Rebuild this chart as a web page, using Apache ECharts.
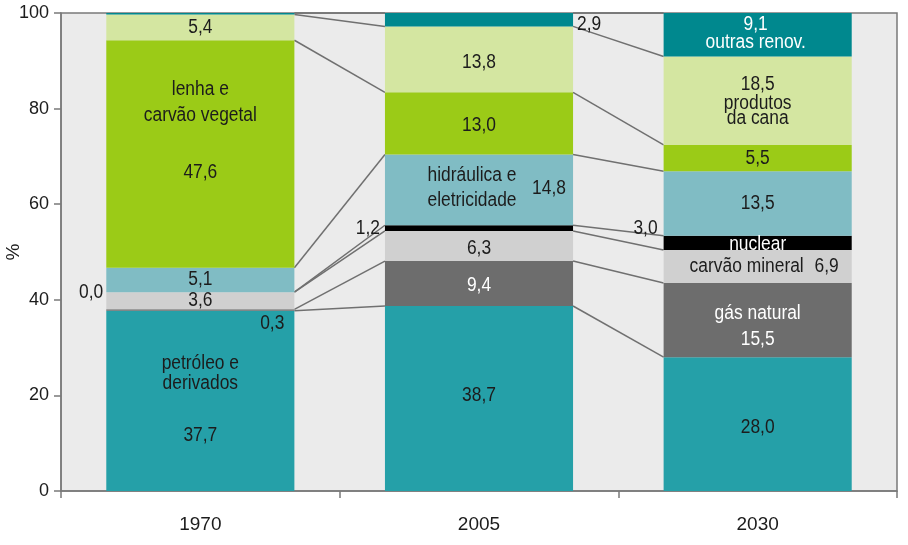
<!DOCTYPE html>
<html><head><meta charset="utf-8">
<script src="https://cdn.jsdelivr.net/npm/echarts@6/dist/echarts.min.js"></script>
<style>html,body{margin:0;padding:0;background:#fff}#c{width:908px;height:545px}</style>
</head><body><div id="c"></div>
<script>
// ---- data ----
const categories = ['1970', '2005', '2030'];
const petroleo      = [37.7, 38.7, 28.0];
const gasNatural    = [0.3, 9.4, 15.5];
const carvaoMineral = [3.6, 6.3, 6.9];
const nuclear       = [0.0, 1.2, 3.0];
const hidraulica    = [5.1, 14.8, 13.5];
const lenha         = [47.6, 13.0, 5.5];
const cana          = [5.4, 13.8, 18.5];
const outras        = [0.3, 2.9, 9.1];
const yTicks = [0, 20, 40, 60, 80, 100];
const yTitle = '%';

// ---- styling ----
const FONT = "'Liberation Sans',Arial,sans-serif";
const NARROW = 0.87;
const BAR_FRAC = 0.675;
const seriesDefs = [
  {name: 'petróleo e derivados', data: petroleo, color: '#25a0a8'},
  {name: 'gás natural', data: gasNatural, color: '#6d6d6d'},
  {name: 'carvão mineral', data: carvaoMineral, color: '#d0d0d0'},
  {name: 'nuclear', data: nuclear, color: '#000000'},
  {name: 'hidráulica e eletricidade', data: hidraulica, color: '#80bcc4'},
  {name: 'lenha e carvão vegetal', data: lenha, color: '#9bcb17'},
  {name: 'produtos da cana', data: cana, color: '#d4e6a1'},
  {name: 'outras renov.', data: outras, color: '#00888e'}
];
const fmt = v => v.toFixed(1).replace('.', ',');
function bottomVal(s, c) { let b = 0; for (let k = 0; k < s; k++) b += seriesDefs[k].data[c]; return b; }
function topVal(s, c) { return Math.min(100, bottomVal(s, c) + seriesDefs[s].data[c]); }
function midVal(s, c) { return (bottomVal(s, c) + Math.min(100, topVal(s, c))) / 2; }

// label layout: series index, category, text (null = value), anchor, offsets, colour, align
const D = '#1c1c1c', W = '#ffffff';
const LABELS = [
  // 1970
  {s: 6, c: 0, t: null, a: 'c', dx: 0, dy: 0, col: D},
  {s: 5, c: 0, t: 'lenha e', a: 'c', dx: 0, dy: -65, col: D},
  {s: 5, c: 0, t: 'carvão vegetal', a: 'c', dx: 0, dy: -39, col: D},
  {s: 5, c: 0, t: null, a: 'c', dx: 0, dy: 18, col: D},
  {s: 4, c: 0, t: null, a: 'c', dx: 0, dy: 0, col: D},
  {s: 3, c: 0, t: null, a: 'l', dx: -3, dy: 0, col: D, al: 'right'},
  {s: 2, c: 0, t: null, a: 'c', dx: 0, dy: 0, col: D},
  {s: 1, c: 0, t: null, a: 'r', dx: -10, dy: 13, col: D, al: 'right'},
  {s: 0, c: 0, t: 'petróleo e', a: 'c', dx: 0, dy: -37, col: D},
  {s: 0, c: 0, t: 'derivados', a: 'c', dx: 0, dy: -17, col: D},
  {s: 0, c: 0, t: null, a: 'c', dx: 0, dy: 35, col: D},
  // 2005
  {s: 7, c: 1, t: null, a: 'r', dx: 4, dy: 5, col: D, al: 'left'},
  {s: 6, c: 1, t: null, a: 'c', dx: 0, dy: 3, col: D},
  {s: 5, c: 1, t: null, a: 'c', dx: 0, dy: 2, col: D},
  {s: 4, c: 1, t: 'hidráulica e', a: 'c', dx: -7, dy: -14, col: D},
  {s: 4, c: 1, t: 'eletricidade', a: 'c', dx: -7, dy: 11, col: D},
  {s: 4, c: 1, t: null, a: 'c', dx: 70, dy: -1, col: D},
  {s: 3, c: 1, t: null, a: 'l', dx: -5, dy: 0, col: D, al: 'right'},
  {s: 2, c: 1, t: null, a: 'c', dx: 0, dy: 2, col: D},
  {s: 1, c: 1, t: null, a: 'c', dx: 0, dy: 2, col: W},
  {s: 0, c: 1, t: null, a: 'c', dx: 0, dy: -3, col: D},
  // 2030
  {s: 7, c: 2, t: null, a: 'c', dx: -2, dy: -10, col: W},
  {s: 7, c: 2, t: 'outras renov.', a: 'c', dx: -2, dy: 8, col: W},
  {s: 6, c: 2, t: null, a: 'c', dx: 0, dy: -16, col: D},
  {s: 6, c: 2, t: 'produtos', a: 'c', dx: 0, dy: 3, col: D},
  {s: 6, c: 2, t: 'da cana', a: 'c', dx: 0, dy: 18, col: D},
  {s: 5, c: 2, t: null, a: 'c', dx: 0, dy: 0, col: D},
  {s: 4, c: 2, t: null, a: 'c', dx: 0, dy: 0, col: D},
  {s: 3, c: 2, t: null, a: 'l', dx: -6, dy: -14, col: D, al: 'right'},
  {s: 3, c: 2, t: 'nuclear', a: 'c', dx: 0, dy: 2, col: W},
  {s: 2, c: 2, t: 'carvão mineral', a: 'c', dx: -11, dy: 0, col: D},
  {s: 2, c: 2, t: null, a: 'c', dx: 69, dy: 0, col: D},
  {s: 1, c: 2, t: 'gás natural', a: 'c', dx: 0, dy: -7, col: W},
  {s: 1, c: 2, t: null, a: 'c', dx: 0, dy: 19, col: W},
  {s: 0, c: 2, t: null, a: 'c', dx: 0, dy: 3, col: D}
];

// connector line data: top boundary of each series between neighbouring bars
const connectors = [];
seriesDefs.forEach((sd, s) => {
  for (let c = 0; c < categories.length - 1; c++) connectors.push([c, topVal(s, c), topVal(s, c + 1)]);
});

const chart = echarts.init(document.getElementById('c'), null, {renderer: 'canvas'});
const series = seriesDefs.map(sd => ({
  name: sd.name, type: 'bar', stack: 'total', data: sd.data,
  barWidth: (BAR_FRAC * 100) + '%', itemStyle: {color: sd.color}, z: 2,
  emphasis: {disabled: true}, animation: false
}));
series.push({
  type: 'custom', z: 1, silent: true, animation: false,
  data: connectors,
  encode: {x: 0, y: [1, 2]},
  renderItem(params, api) {
    const c = api.value(0);
    const p1 = api.coord([c, api.value(1)]);
    const p2 = api.coord([c + 1, api.value(2)]);
    const half = api.size([1, 0])[0] * BAR_FRAC / 2;
    return {type: 'line', shape: {x1: p1[0] + half, y1: p1[1], x2: p2[0] - half, y2: p2[1]},
      style: {stroke: '#707070', lineWidth: 1.5}};
  }
});
series.push({
  type: 'custom', z: 5, silent: true, animation: false,
  data: LABELS.map((L, i) => [L.c, midVal(L.s, L.c), i]),
  encode: {x: 0, y: 1},
  renderItem(params, api) {
    const L = LABELS[params.dataIndex];
    const p = api.coord([L.c, midVal(L.s, L.c)]);
    const half = api.size([1, 0])[0] * BAR_FRAC / 2;
    const x = p[0] + (L.a === 'l' ? -half : L.a === 'r' ? half : 0) + L.dx;
    const text = L.t === null ? fmt(seriesDefs[L.s].data[L.c]) : L.t;
    return {type: 'text', x: x, y: p[1] + L.dy, scaleX: NARROW,
      style: {text: text, fill: L.col, font: '20px ' + FONT, align: L.al || 'center', verticalAlign: 'middle'}};
  }
});

chart.setOption({
  backgroundColor: '#ffffff',
  animation: false,
  grid: {left: 61, right: 11, top: 13, bottom: 54, show: true, backgroundColor: '#ebebeb',
    borderColor: '#7a7a7a', borderWidth: 1.5, containLabel: false, outerBoundsMode: 'none'},
  xAxis: {type: 'category', data: categories,
    axisLine: {lineStyle: {color: '#7a7a7a', width: 1.5}},
    axisTick: {show: true, length: 7, lineStyle: {color: '#7a7a7a', width: 1.5}},
    axisLabel: {margin: 24, color: '#1c1c1c', fontSize: 19, fontFamily: FONT}},
  yAxis: {type: 'value', min: yTicks[0], max: yTicks[yTicks.length - 1], interval: yTicks[1] - yTicks[0],
    name: yTitle, nameLocation: 'middle', nameGap: 38, nameRotate: 90, nameMoveOverlap: false,
    nameTextStyle: {color: '#1c1c1c', fontSize: 19, fontFamily: FONT},
    splitLine: {show: false},
    axisLine: {show: true, lineStyle: {color: '#7a7a7a', width: 1.5}},
    axisTick: {show: true, length: 7, lineStyle: {color: '#7a7a7a', width: 1.5}},
    axisLabel: {margin: 12, color: '#1c1c1c', fontSize: 18, fontFamily: FONT}},
  series: series
});
</script></body></html>
